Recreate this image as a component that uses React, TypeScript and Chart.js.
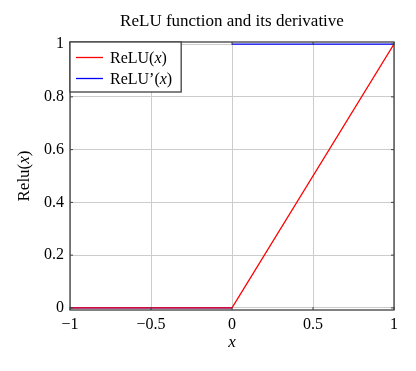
import { useEffect, useRef } from "react";
import { Chart, registerables } from "chart.js";

Chart.register(...registerables);

const chartTitle = "ReLU function and its derivative";
const xTicks = [-1, -0.5, 0, 0.5, 1];
const yTicks = [0, 0.2, 0.4, 0.6, 0.8, 1];
const reluX = [-1, 0, 1];
const reluY = [0, 0, 1];
const derivX = [-1, 0, 0, 0, 1];
const derivY: (number | null)[] = [0, 0, null, 1, 1];
const seriesNames = [
  ["ReLU(", "x", ")"],
  ["ReLU\u2019(", "x", ")"],
];
const seriesColors = ["#ff0000", "#0000ff"];
const xAxisLabel = ["", "x", ""];
const yAxisLabel = ["Relu(", "x", ")"];

const FONT = "'Liberation Serif', 'DejaVu Serif', serif";
const FRAME = "#404040";

function fmt(v: number): string {
  return v < 0 ? "\u2212" + String(Math.abs(v)) : String(v);
}

function drawRich(
  ctx: CanvasRenderingContext2D,
  parts: string[],
  x: number,
  y: number,
  size: number,
  align: "left" | "center"
) {
  const fonts = parts.map((_, i) => (i === 1 ? `italic ${size}px ${FONT}` : `${size}px ${FONT}`));
  const widths = parts.map((p, i) => {
    ctx.font = fonts[i];
    return ctx.measureText(p).width;
  });
  const total = widths.reduce((a, b) => a + b, 0);
  let cx = align === "center" ? x - total / 2 : x;
  ctx.textAlign = "left";
  ctx.textBaseline = "alphabetic";
  parts.forEach((p, i) => {
    ctx.font = fonts[i];
    ctx.fillText(p, cx, y);
    cx += widths[i];
  });
  return total;
}

function measureRich(ctx: CanvasRenderingContext2D, parts: string[], size: number) {
  let t = 0;
  parts.forEach((p, i) => {
    ctx.font = i === 1 ? `italic ${size}px ${FONT}` : `${size}px ${FONT}`;
    t += ctx.measureText(p).width;
  });
  return t;
}

const decorPlugin = {
  id: "decor",
  afterDraw(chart: any) {
    const ctx: CanvasRenderingContext2D = chart.ctx;
    const a = chart.chartArea;
    const xs = chart.scales.x;
    const ys = chart.scales.y;
    ctx.save();
    ctx.fillStyle = "#000";
    // frame
    ctx.strokeStyle = FRAME;
    ctx.lineWidth = 1.3;
    ctx.strokeRect(a.left, a.top, a.right - a.left, a.bottom - a.top);
    // inner tick marks
    ctx.lineWidth = 1;
    ctx.beginPath();
    xTicks.forEach((v) => {
      const px = xs.getPixelForValue(v);
      ctx.moveTo(px, a.bottom);
      ctx.lineTo(px, a.bottom - 3);
      ctx.moveTo(px, a.top);
      ctx.lineTo(px, a.top + 3);
    });
    yTicks.forEach((v) => {
      const py = ys.getPixelForValue(v);
      ctx.moveTo(a.left, py);
      ctx.lineTo(a.left + 3, py);
      ctx.moveTo(a.right, py);
      ctx.lineTo(a.right - 3, py);
    });
    ctx.stroke();

    const cxMid = (a.left + a.right) / 2;
    // title
    ctx.font = `17px ${FONT}`;
    ctx.textAlign = "center";
    ctx.textBaseline = "alphabetic";
    ctx.fillText(chartTitle, cxMid, 18);
    // x axis label
    drawRich(ctx, xAxisLabel, cxMid, 339, 17, "center");
    // y axis label
    ctx.save();
    ctx.translate(21, (a.top + a.bottom) / 2);
    ctx.rotate(-Math.PI / 2);
    drawRich(ctx, yAxisLabel, 0, 0, 17, "center");
    ctx.restore();

    // legend
    const lsize = 16;
    const maxW = Math.max(...seriesNames.map((n) => measureRich(ctx, n, lsize)));
    const bw = 41 + maxW + 8;
    const bh = 50;
    ctx.fillStyle = "#fff";
    ctx.fillRect(a.left, a.top, bw, bh);
    ctx.strokeStyle = FRAME;
    ctx.lineWidth = 1.3;
    ctx.strokeRect(a.left, a.top, bw, bh);
    seriesNames.forEach((n, i) => {
      const ly = a.top + 15.5 + i * 21;
      ctx.strokeStyle = seriesColors[i];
      ctx.lineWidth = 1.3;
      ctx.beginPath();
      ctx.moveTo(a.left + 6, ly);
      ctx.lineTo(a.left + 33, ly);
      ctx.stroke();
      ctx.fillStyle = "#000";
      drawRich(ctx, n, a.left + 40, ly + 5, lsize, "left");
    });
    ctx.restore();
  },
};

export default function App() {
  const ref = useRef<HTMLCanvasElement | null>(null);
  useEffect(() => {
    if (!ref.current) return;
    const chart = new Chart(ref.current, {
      type: "line",
      data: {
        datasets: [
          {
            label: "ReLU(x)",
            data: reluX.map((x, i) => ({ x, y: reluY[i] })),
            borderColor: seriesColors[0],
            borderWidth: 1.3,
            pointRadius: 0,
            fill: false,
            tension: 0,
          },
          {
            label: "ReLU'(x)",
            data: derivX.map((x, i) => ({ x, y: derivY[i] })) as any,
            borderColor: seriesColors[1],
            borderWidth: 1.3,
            pointRadius: 0,
            fill: false,
            tension: 0,
            spanGaps: false,
          },
        ],
      },
      options: {
        animation: false,
        responsive: true,
        maintainAspectRatio: false,
        layout: { padding: { left: 32, right: 14, top: 34, bottom: 13 } },
        plugins: {
          legend: { display: false },
          title: { display: false },
          tooltip: { enabled: false },
        },
        scales: {
          x: {
            type: "linear",
            min: -1,
            max: 1,
            afterBuildTicks: (s: any) => {
              s.ticks = xTicks.map((v) => ({ value: v }));
            },
            afterFit: (s: any) => {
              s.height = 40;
            },
            grid: { color: "#cccccc", drawTicks: false, lineWidth: 1 },
            border: { display: false },
            ticks: {
              padding: 5,
              color: "#000",
              maxRotation: 0,
              font: { family: FONT, size: 16 },
              callback: (v: any) => fmt(Number(v)),
            },
          },
          y: {
            type: "linear",
            min: -0.008,
            max: 1.008,
            afterBuildTicks: (s: any) => {
              s.ticks = yTicks.map((v) => ({ value: v }));
            },
            afterFit: (s: any) => {
              s.width = 30;
            },
            grid: { color: "#cccccc", drawTicks: false, lineWidth: 1 },
            border: { display: false },
            ticks: {
              padding: 6,
              color: "#000",
              font: { family: FONT, size: 16 },
              callback: (v: any) => fmt(Number(v)),
            },
          },
        },
      },
      plugins: [decorPlugin],
    });
    return () => chart.destroy();
  }, []);
  return (
    <div style={{ width: 400, height: 355, position: "relative" }}>
      <canvas ref={ref} />
    </div>
  );
}
